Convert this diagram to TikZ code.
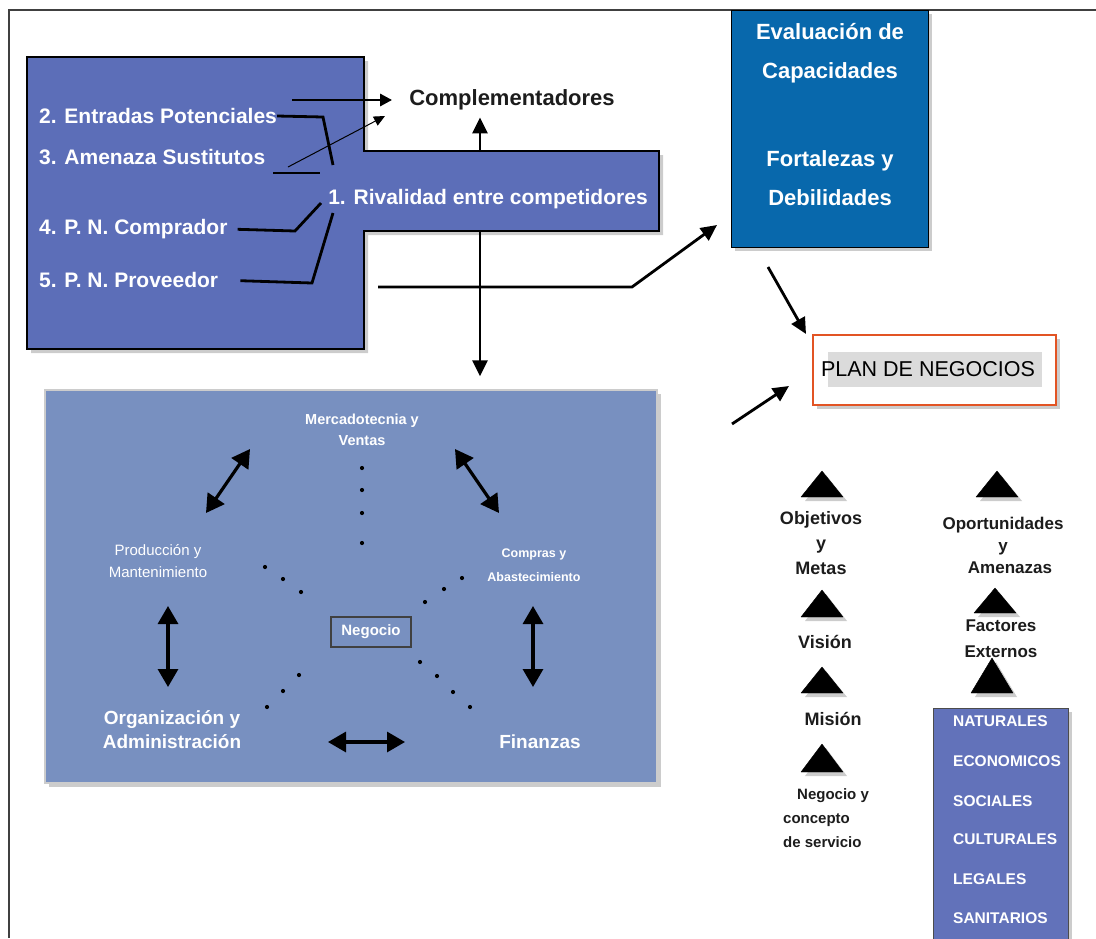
\documentclass[tikz,border=0pt]{standalone}
\usepackage{fontspec}
\setmainfont{Liberation Sans}
\usetikzlibrary{arrows.meta,shadows}

\definecolor{porterblue}{RGB}{92,110,184}
\definecolor{areablue}{RGB}{120,144,192}
\definecolor{evalblue}{RGB}{8,104,172}
\definecolor{listblue}{RGB}{98,114,186}
\definecolor{planorange}{RGB}{226,84,36}
\definecolor{inkdark}{RGB}{28,28,28}

\newcommand\fsz[2]{\fontsize{#1}{#2}\selectfont}

\begin{document}
\begin{tikzpicture}[x=1pt,y=-1pt,
  shade/.style={drop shadow={shadow xshift=4pt,shadow yshift=-4pt,fill=black!40,opacity=0.5}},
  wlabel/.style={text=white,font=\bfseries\fsz{21}{25},inner sep=0pt,anchor=west},
  conn/.style={line width=2.8pt,draw=black},
  tip/.style={-{Triangle[length=16pt,width=15pt]}},
  twoway/.style={line width=3.2pt,draw=black,{Triangle[length=18pt,width=20pt]}-{Triangle[length=18pt,width=20pt]}},
  darktext/.style={text=inkdark,font=\bfseries\fsz{18}{25},align=center,inner sep=0pt},
  uptri/.style={fill=black,draw=black,line join=round,shade},
  listitem/.style={text=white,font=\bfseries\fsz{15.5}{18},anchor=west,inner sep=0pt}
]
\useasboundingbox (0,0) rectangle (1096,938);

% page frame
\draw[line width=1.3pt,black!75] (9,938) -- (9,10) -- (1096,10);

% ---------- five forces block ----------
\draw[shade,fill=porterblue,line width=2pt,line join=miter]
  (27,57) -- (364,57) -- (364,151) -- (659,151) -- (659,231)
  -- (364,231) -- (364,349) -- (27,349) -- cycle;

\node[wlabel] (ent) at (39,116) {2. Entradas Potenciales};
\node[wlabel] (ame) at (39,157) {3. Amenaza Sustitutos};
\node[wlabel] (pnc) at (39,229) {4. P. N. Comprador};
\node[wlabel] (pnp) at (39,280) {5. P. N. Proveedor};
\node[text=white,font=\bfseries\fsz{21}{25},inner sep=0pt] (riv) at (488,199) {1. Rivalidad entre competidores};
\node[text=inkdark,font=\bfseries\fsz{22}{26},inner sep=0pt] (comp) at (512,100) {Complementadores};

% connectors inside the block
\coordinate (c1) at (292,100);
\coordinate (e1) at (323,117);
\coordinate (e2) at (333,165);
\coordinate (s1) at (288,167);
\coordinate (s2) at (385,116);
\coordinate (a1) at (273,173);
\coordinate (a2) at (320,173);
\coordinate (b1) at (295,231);
\coordinate (b2) at (321,203);
\coordinate (v1) at (312,283);
\coordinate (v2) at (333,213);

\draw[conn,-{Triangle[length=12pt,width=12pt]},shorten >=17pt] (c1) -- (comp.west);
\draw[conn] (ent.east) -- (e1) -- (e2);
\draw[line width=1pt,-{Triangle[length=11pt,width=10pt]}] (s1) -- (s2);
\draw[conn] (a1) -- (a2);
\draw[conn,shorten <=10pt] (pnc.east) -- (b1) -- (b2);
\draw[conn,shorten <=22pt] (pnp.east) -- (v1) -- (v2);

% ---------- evaluation box ----------
\node[shade,fill=evalblue,draw=black,line width=1pt,minimum width=197pt,minimum height=237pt,inner sep=0pt] (eval) at (829.5,128.5) {};
\node[text=white,font=\bfseries\fsz{22}{39},align=center,inner sep=0pt] (evtop) at (830,53) {Evaluación de\\Capacidades};
\node[text=white,font=\bfseries\fsz{22}{39},align=center,inner sep=0pt] (evbot) at (830,178) {Fortalezas y\\Debilidades};

% ---------- business plan ----------
\node[shade,fill=white,draw=planorange,line width=2pt,minimum width=243pt,minimum height=70pt,inner sep=0pt] (plan) at (934.5,370) {};
\fill[black!14] (828,352) rectangle (1042,387);
\node[text=black,font=\fsz{21.5}{24},inner sep=0pt] (plantxt) at (928,369) {PLAN DE NEGOCIOS};

% ---------- functional areas ----------
\node[shade,fill=areablue,draw=black!20,line width=1.5pt,minimum width=612pt,minimum height=393pt,inner sep=0pt] (area) at (351,586.5) {};

\node[text=white,font=\bfseries\fsz{14.5}{21},align=center,inner sep=0pt] (merc) at (362,430) {Mercadotecnia y\\Ventas};
\node[text=white,font=\fsz{15}{22},align=center,inner sep=0pt] (prod) at (158,561) {Producción y\\Mantenimiento};
\node[text=white,font=\bfseries\fsz{12.5}{24},align=center,inner sep=0pt] (compras) at (534,565) {Compras y\\Abastecimiento};
\node[text=white,font=\bfseries\fsz{19}{24},align=center,inner sep=0pt] (org) at (172,730) {Organización y\\Administración};
\node[text=white,font=\bfseries\fsz{19}{24},inner sep=0pt] (fin) at (540,742) {Finanzas};
\node[text=white,font=\bfseries\fsz{15}{18},draw=black!75,line width=2pt,minimum width=80pt,minimum height=30pt,inner sep=0pt] (neg) at (371,632) {Negocio};

% links between areas
\coordinate (mp1) at (250,449); \coordinate (mp2) at (206,513);
\coordinate (mc1) at (455,449); \coordinate (mc2) at (499,513);
\coordinate (po1) at (168,606); \coordinate (po2) at (168,687);
\coordinate (cf1) at (533,606); \coordinate (cf2) at (533,687);
\coordinate (of1) at (328,742); \coordinate (of2) at (405,742);
\draw[twoway] (mp1) -- (mp2);
\draw[twoway] (mc1) -- (mc2);
\draw[twoway] (po1) -- (po2);
\draw[twoway] (cf1) -- (cf2);
\draw[twoway] (of1) -- (of2);

% dotted spokes around the business core
\foreach \p in {(362,468),(362,490),(362,513),(362,543),
                (265,567),(283,579),(301,592),
                (462,578),(444,589),(425,602),
                (299,675),(283,691),(267,707),
                (420,662),(437,676),(453,692),(470,707)}
  \fill \p circle (2.1);

% block arrows
\coordinate (u1) at (480,152);
\coordinate (d1) at (480,232);
\coordinate (h1) at (378,287);
\coordinate (h2) at (632,287);
\coordinate (h3) at (717,225);
\coordinate (p1) at (768,267);
\coordinate (p2) at (806,334);
\coordinate (q1) at (732,424);
\coordinate (q2) at (789,386);
\draw[conn,tip,shorten >=7pt] (u1) -- (u1 |- comp.south);
\draw[conn,tip,shorten >=13pt] (d1) -- (d1 |- area.north);
\draw[conn,tip] (h1) -- (h2) -- (h3);
\draw[conn,tip] (p1) -- (p2);
\draw[conn,tip] (q1) -- (q2);

% ---------- strategy ladder ----------
\draw[uptri] (822,471) -- (843,497) -- (801,497) -- cycle;
\node[darktext] (obj) at (821,543) {Objetivos\\y\\Metas};
\draw[uptri] (822,590) -- (843,617) -- (801,617) -- cycle;
\node[darktext] (vis) at (825,642) {Visión};
\draw[uptri] (822,667) -- (843,693) -- (801,693) -- cycle;
\node[darktext] (mis) at (833,719) {Misión};
\draw[uptri] (822,744) -- (843,772) -- (801,772) -- cycle;
\node[text=inkdark,font=\bfseries\fsz{15}{24},align=left,inner sep=0pt,anchor=north west] (conc) at (783,788) {\hspace*{14pt}Negocio y\\concepto\\de servicio};

% ---------- environment ladder ----------
\draw[uptri] (997,471) -- (1018,497) -- (976,497) -- cycle;
\node[darktext,font=\bfseries\fsz{17}{22}] (opo) at (1003,545) {Oportunidades\\y\\\hspace*{14pt}Amenazas};
\draw[uptri] (995,588) -- (1016,613) -- (974,613) -- cycle;
\node[darktext,font=\bfseries\fsz{17}{26}] (fac) at (1001,639) {Factores\\Externos};
\draw[uptri] (992,658) -- (1013,693) -- (971,693) -- cycle;

\node[shade,fill=listblue,draw=black!70,line width=1pt,minimum width=135pt,minimum height=232pt,inner sep=0pt] (env) at (1000.5,824) {};
\node[listitem] (nat) at (953,721) {NATURALES};
\node[listitem] (eco) at (953,761) {ECONOMICOS};
\node[listitem] (soc) at (953,801) {SOCIALES};
\node[listitem] (cul) at (953,839) {CULTURALES};
\node[listitem] (leg) at (953,879) {LEGALES};
\node[listitem] (san) at (953,918) {SANITARIOS};
\end{tikzpicture}
\end{document}
